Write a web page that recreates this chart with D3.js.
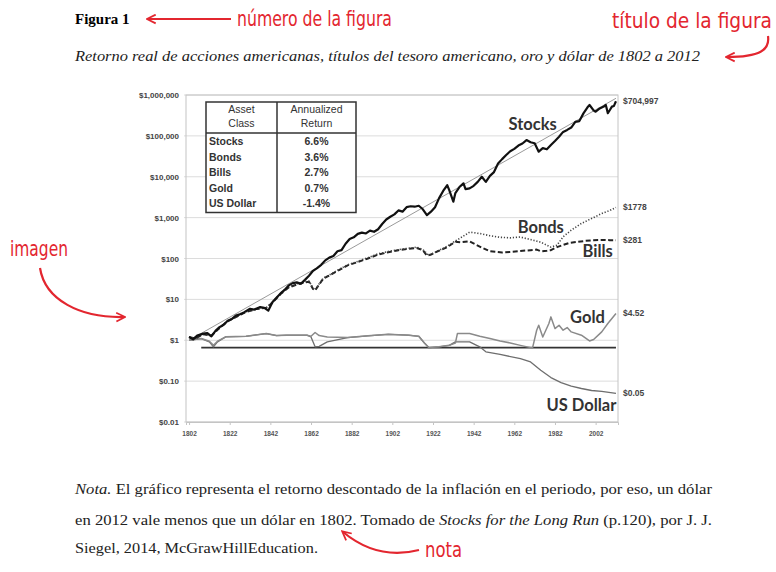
<!DOCTYPE html>
<html>
<head>
<meta charset="utf-8">
<script src="https://cdn.jsdelivr.net/npm/d3@7"></script>
<style>
  body { margin: 0; background: #fff; }
  svg { display: block; }
</style>
</head>
<body>
<svg id="page" width="776" height="572"></svg>
<script>
// values (real dollars, log scale)
const stocks = [
  [1802, 1.2], [1804, 1.05], [1806, 1.3], [1809, 1.45], [1811, 1.5], [1813, 1.25], [1815, 1.7],
  [1817, 2.1], [1819, 2.4], [1821, 3.0], [1823, 3.3], [1825, 4.0], [1827, 4.3], [1829, 4.8],
  [1832, 5.9], [1834, 5.6], [1837, 6.5], [1839, 6.2], [1841, 5.3], [1843, 8.5], [1845, 11],
  [1847, 14], [1849, 17], [1851, 22], [1853, 25], [1855, 26], [1857, 24], [1859, 30], [1861, 38],
  [1863, 50], [1865, 58], [1867, 70], [1869, 90], [1871, 105], [1873, 115], [1875, 150],
  [1877, 160], [1879, 230], [1881, 300], [1883, 330], [1885, 400], [1887, 430], [1889, 410],
  [1891, 480], [1893, 450], [1895, 520], [1897, 700], [1899, 900], [1901, 1050], [1903, 1200],
  [1905, 1500], [1907, 1400], [1909, 1800], [1911, 1900], [1913, 1850], [1915, 1950],
  [1917, 1600], [1919, 1150], [1921, 1400], [1923, 1800], [1925, 3000], [1927, 4500],
  [1929, 6200], [1930, 4700], [1932, 2450], [1933, 4000], [1935, 5600], [1937, 6900],
  [1938, 5000], [1940, 5200], [1942, 6000], [1944, 7500], [1946, 10000], [1948, 7500],
  [1950, 10500], [1952, 13000], [1954, 21000], [1956, 27000], [1958, 34000], [1960, 42000],
  [1962, 48000], [1964, 58000], [1966, 65000], [1968, 79000], [1970, 70000], [1972, 66000],
  [1974, 41000], [1976, 50000], [1978, 47000], [1980, 60000], [1982, 75000], [1984, 95000],
  [1986, 125000], [1988, 140000], [1990, 160000], [1992, 220000], [1994, 230000],
  [1996, 355000], [1998, 500000], [1999, 570000], [2001, 420000], [2002, 390000],
  [2004, 470000], [2006, 520000], [2007, 570000], [2008, 360000], [2009, 430000],
  [2010, 520000], [2011, 540000], [2012, 704997]
];

const bonds = [
  [1802, 1.2], [1805, 1.1], [1809, 1.4], [1813, 1.3], [1817, 2.0], [1821, 2.9], [1825, 3.8],
  [1830, 5.0], [1835, 6.0], [1840, 6.3], [1843, 8.5], [1847, 14], [1851, 20], [1855, 24],
  [1859, 27], [1861, 28], [1863, 19], [1864, 17], [1866, 24], [1868, 33], [1872, 42],
  [1876, 55], [1880, 70], [1885, 85], [1890, 105], [1895, 130], [1900, 148], [1905, 165],
  [1910, 178], [1914, 190], [1917, 165], [1920, 118], [1924, 150], [1929, 200], [1932, 250],
  [1936, 330], [1940, 440], [1942, 430], [1946, 400], [1950, 360], [1955, 330], [1960, 320],
  [1965, 335], [1970, 290], [1975, 250], [1980, 190], [1983, 211], [1986, 340], [1990, 494],
  [1995, 720], [2000, 950], [2005, 1260], [2009, 1500], [2012, 1778]
];

const bills = [
  [1802, 1.2], [1805, 1.1], [1809, 1.4], [1813, 1.3], [1817, 2.0], [1821, 2.9], [1825, 3.7],
  [1830, 4.9], [1835, 5.8], [1840, 6.2], [1843, 8.3], [1847, 13.5], [1851, 19.5], [1855, 23],
  [1859, 26], [1861, 27], [1863, 18], [1864, 16.5], [1866, 23], [1868, 32], [1872, 41],
  [1876, 53], [1880, 68], [1885, 82], [1890, 100], [1895, 125], [1900, 142], [1905, 160],
  [1910, 172], [1914, 180], [1917, 160], [1919, 118], [1921, 125], [1924, 148], [1929, 190],
  [1933, 256], [1936, 250], [1940, 262], [1943, 220], [1946, 185], [1950, 150], [1953, 145],
  [1956, 140], [1960, 145], [1965, 153], [1970, 160], [1973, 165], [1975, 150], [1978, 155],
  [1980, 160], [1983, 190], [1986, 215], [1989, 240], [1993, 255], [1997, 270], [2001, 280],
  [2006, 285], [2009, 281], [2012, 281]
];

const gold = [
  [1802, 1.0], [1808, 1.1], [1812, 0.95], [1814, 0.75], [1816, 0.95], [1820, 1.21],
  [1830, 1.25], [1840, 1.46], [1845, 1.3], [1850, 1.33], [1860, 1.33], [1862, 1.25],
  [1864, 1.55], [1866, 1.3], [1870, 1.2], [1880, 1.16], [1890, 1.28], [1900, 1.4],
  [1910, 1.33], [1915, 1.25], [1918, 0.83], [1920, 0.66], [1925, 0.69], [1930, 0.75],
  [1933, 0.85], [1934, 1.46], [1940, 1.46], [1945, 1.25], [1950, 1.1], [1955, 0.96],
  [1960, 0.86], [1965, 0.75], [1970, 0.66], [1971, 0.66], [1973, 1.76], [1974, 2.33],
  [1976, 1.2], [1979, 2.56], [1980, 3.73], [1982, 1.93], [1984, 2.33], [1986, 1.76],
  [1988, 2.04], [1990, 1.6], [1995, 1.33], [1999, 0.96], [2001, 1.04], [2005, 1.6],
  [2008, 2.56], [2010, 3.39], [2012, 4.52]
];

const dollar = [
  [1802, 1.0], [1808, 1.1], [1812, 0.91], [1814, 0.69], [1816, 0.91], [1820, 1.21],
  [1830, 1.25], [1840, 1.46], [1845, 1.3], [1850, 1.33], [1860, 1.33], [1862, 1.2],
  [1864, 0.69], [1866, 0.71], [1870, 0.91], [1880, 1.16], [1890, 1.28], [1900, 1.4],
  [1910, 1.33], [1915, 1.25], [1918, 0.83], [1920, 0.66], [1925, 0.69], [1930, 0.75],
  [1933, 0.91], [1940, 0.91], [1945, 0.69], [1948, 0.52], [1955, 0.45], [1965, 0.355],
  [1970, 0.295], [1975, 0.184], [1980, 0.122], [1985, 0.092], [1990, 0.075], [1995, 0.066],
  [2000, 0.059], [2005, 0.056], [2012, 0.05]
];

const stockTrend = [[1802, 1.0], [2012, 830000]];
const refLine = [[1808, 0.66], [2012, 0.66]];

const yTicks = [0.01, 0.1, 1, 10, 100, 1000, 10000, 100000, 1000000];
const yTickLabels = ['$0.01', '$0.10', '$1', '$10', '$100', '$1,000', '$10,000', '$100,000', '$1,000,000'];
const xTicks = [1802, 1822, 1842, 1862, 1882, 1902, 1922, 1942, 1962, 1982, 2002];
const endLabels = ['$704,997', '$1778', '$281', '$4.52', '$0.05'];

const tableHead = [['Asset', 'Annualized'], ['Class', 'Return']];
const assetClasses = ['Stocks', 'Bonds', 'Bills', 'Gold', 'US Dollar'];
const annualReturns = ['6.6%', '3.6%', '2.7%', '0.7%', '-1.4%'];

const RED = '#e3262f';
const serif = '"Liberation Serif", "Times New Roman", serif';
const narrow = '"Liberation Sans Narrow", "DejaVu Sans Condensed", "Roboto Condensed", sans-serif';

const svg = d3.select('#page');

svg.append('defs').append('marker')
  .attr('id', 'arrow')
  .attr('viewBox', '0 0 10 10')
  .attr('refX', 8).attr('refY', 5)
  .attr('markerWidth', 5).attr('markerHeight', 5)
  .attr('orient', 'auto-start-reverse')
  .append('path')
  .attr('d', 'M1,1 L9,5 L1,9')
  .attr('fill', 'none')
  .attr('stroke', RED)
  .attr('stroke-width', 1.6);

// ---- page text ----
svg.append('text')
  .attr('x', 75).attr('y', 24)
  .attr('font-family', serif).attr('font-weight', 'bold').attr('font-size', 15)
  .text('Figura 1');

svg.append('text')
  .attr('x', 75).attr('y', 61)
  .attr('font-family', serif).attr('font-style', 'italic').attr('font-size', 15)
  .attr('fill', '#222')
  .attr('textLength', 625).attr('lengthAdjust', 'spacingAndGlyphs')
  .text('Retorno real de acciones americanas, títulos del tesoro americano, oro y dólar de 1802 a 2012');

const note = svg.append('g')
  .attr('font-family', serif).attr('font-size', 15).attr('fill', '#222');
const l1 = note.append('text').attr('x', 75).attr('y', 494)
  .attr('textLength', 637).attr('lengthAdjust', 'spacingAndGlyphs');
l1.append('tspan').attr('font-style', 'italic').text('Nota.');
l1.append('tspan').text(' El gráfico representa el retorno descontado de la inflación en el periodo, por eso, un dólar');
const l2 = note.append('text').attr('x', 75).attr('y', 525)
  .attr('textLength', 637).attr('lengthAdjust', 'spacingAndGlyphs');
l2.append('tspan').text('en 2012 vale menos que un dólar en 1802. Tomado de ');
l2.append('tspan').attr('font-style', 'italic').text('Stocks for the Long Run');
l2.append('tspan').text(' (p.120), por J. J.');
note.append('text').attr('x', 75).attr('y', 553)
  .attr('textLength', 243).attr('lengthAdjust', 'spacingAndGlyphs')
  .text('Siegel, 2014, McGrawHillEducation.');

// ---- red annotations ----
const redNotes = [
  {t: 'número de la figura', x: 237, y: 26, w: 155},
  {t: 'título de la figura', x: 612, y: 28, w: 160},
  {t: 'imagen', x: 10, y: 256, w: 58},
  {t: 'nota', x: 425, y: 557, w: 37}
];
svg.append('g')
  .selectAll('text')
  .data(redNotes)
  .join('text')
  .attr('x', d => d.x).attr('y', d => d.y)
  .attr('textLength', d => d.w).attr('lengthAdjust', 'spacingAndGlyphs')
  .attr('font-family', narrow).attr('font-size', 21).attr('fill', RED)
  .text(d => d.t);

const arrows = [
  'M231,19 L148,19',
  'M768,36 C770,50 760,57 727,57',
  'M40,268 C45,300 80,318 124,317',
  'M419,550 C392,557 366,551 343,532'
];
svg.append('g').selectAll('path')
  .data(arrows)
  .join('path')
  .attr('d', d => d)
  .attr('fill', 'none')
  .attr('stroke', RED)
  .attr('stroke-width', 2.2)
  .attr('marker-end', 'url(#arrow)');

// ---- chart ----
const margin = {top: 95, right: 158, bottom: 150, left: 186};
const width = 776 - margin.left - margin.right;
const height = 572 - margin.top - margin.bottom;

const g = svg.append('g')
  .attr('transform', 'translate(' + margin.left + ',' + margin.top + ')');

const x = d3.scaleLinear()
  .domain([1800.5, 2013])
  .range([0, width]);

const y = d3.scaleLog()
  .domain([0.01, 1000000])
  .range([height, 0]);

// gridlines
g.append('g')
  .selectAll('line')
  .data(yTicks)
  .join('line')
  .attr('x1', -2).attr('x2', width)
  .attr('y1', d => y(d)).attr('y2', d => y(d))
  .attr('stroke', '#dcdcdc')
  .attr('stroke-width', 1);

g.append('rect')
  .attr('width', width).attr('height', height)
  .attr('fill', 'none')
  .attr('stroke', '#c4c4c4');

g.append('g')
  .call(d3.axisLeft(y).tickValues(yTicks).tickSize(0).tickPadding(7)
    .tickFormat((d, i) => yTickLabels[i]))
  .call(a => a.select('.domain').remove())
  .selectAll('text')
  .attr('font-family', '"Liberation Sans", Arial, sans-serif')
  .attr('font-size', 8)
  .attr('font-weight', 'bold')
  .attr('fill', '#444');

g.append('g')
  .attr('transform', 'translate(0,' + height + ')')
  .call(d3.axisBottom(x).tickValues(xTicks).tickSize(3).tickPadding(6).tickFormat(d3.format('d')))
  .call(a => a.select('.domain').attr('stroke', '#c4c4c4'))
  .call(a => a.selectAll('line').attr('stroke', '#c4c4c4'))
  .selectAll('text')
  .attr('font-family', '"Liberation Sans", Arial, sans-serif')
  .attr('font-size', 6.5)
  .attr('font-weight', 'bold')
  .attr('fill', '#555');

const line = d3.line()
  .x(d => x(d[0]))
  .y(d => y(d[1]));

const series = [
  {data: stockTrend, stroke: '#9a9a9a', width: 1, dash: null},
  {data: refLine, stroke: '#333', width: 1.8, dash: null},
  {data: dollar, stroke: '#6e6e6e', width: 1.3, dash: null},
  {data: gold, stroke: '#8a8a8a', width: 1.5, dash: null},
  {data: bills, stroke: '#222', width: 2, dash: '5,2.5'},
  {data: bonds, stroke: '#444', width: 1.6, dash: '1.2,1.8'},
  {data: stocks, stroke: '#111', width: 2.2, dash: null}
];

g.append('g')
  .selectAll('path')
  .data(series)
  .join('path')
  .attr('d', d => line(d.data))
  .attr('fill', 'none')
  .attr('stroke', d => d.stroke)
  .attr('stroke-width', d => d.width)
  .attr('stroke-dasharray', d => d.dash)
  .attr('stroke-linejoin', 'round');

// end values on the right
const ends = [stocks, bonds, bills, gold, dollar];
g.append('g')
  .selectAll('text')
  .data(ends)
  .join('text')
  .attr('x', width + 5)
  .attr('y', d => y(d[d.length - 1][1]))
  .attr('dy', '0.35em')
  .attr('font-family', '"Liberation Sans", Arial, sans-serif')
  .attr('font-size', 8.5)
  .attr('font-weight', 'bold')
  .attr('fill', '#444')
  .text((d, i) => endLabels[i]);

// series names
const names = [
  {t: 'Stocks', yr: 1971, v: 190000},
  {t: 'Bonds', yr: 1975, v: 580},
  {t: 'Bills', yr: 2003, v: 150},
  {t: 'Gold', yr: 1998, v: 3.65},
  {t: 'US Dollar', yr: 1995, v: 0.0257}
];
g.append('g')
  .selectAll('text')
  .data(names)
  .join('text')
  .attr('x', d => x(d.yr))
  .attr('y', d => y(d.v))
  .attr('dy', '0.35em')
  .attr('text-anchor', 'middle')
  .attr('font-family', 'Lato, "Open Sans", sans-serif')
  .attr('font-weight', 'bold')
  .attr('font-size', 16.5)
  .attr('fill', '#333')
  .text(d => d.t);

// return table
const tb = g.append('g').attr('transform', 'translate(20,7)');
const tw = 150, col = 71, headH = 31, rowH = 15.5;
const th = headH + rowH * assetClasses.length + 2;
tb.append('rect')
  .attr('width', tw).attr('height', th)
  .attr('fill', '#fff').attr('stroke', '#333').attr('stroke-width', 1.5);
tb.append('line').attr('x1', col).attr('x2', col).attr('y1', 0).attr('y2', th)
  .attr('stroke', '#333').attr('stroke-width', 1.5);
tb.append('line').attr('x1', 0).attr('x2', tw).attr('y1', headH).attr('y2', headH)
  .attr('stroke', '#333').attr('stroke-width', 1.5);

const tf = '"Liberation Sans", Arial, sans-serif';
tableHead.forEach((row, r) => {
  row.forEach((cell, c) => {
    tb.append('text')
      .attr('x', c === 0 ? col / 2 : col + (tw - col) / 2)
      .attr('y', 11 + r * 14)
      .attr('text-anchor', 'middle')
      .attr('font-family', tf).attr('font-size', 10.5)
      .attr('fill', '#333')
      .text(cell);
  });
});
assetClasses.forEach((a, i) => {
  tb.append('text')
    .attr('x', 3).attr('y', headH + 12 + i * rowH)
    .attr('font-family', tf).attr('font-size', 10.5).attr('font-weight', 'bold')
    .attr('fill', '#333')
    .text(a);
  tb.append('text')
    .attr('x', col + (tw - col) / 2).attr('y', headH + 12 + i * rowH)
    .attr('text-anchor', 'middle')
    .attr('font-family', tf).attr('font-size', 10.5).attr('font-weight', 'bold')
    .attr('fill', '#333')
    .text(annualReturns[i]);
});
</script>
</body>
</html>
